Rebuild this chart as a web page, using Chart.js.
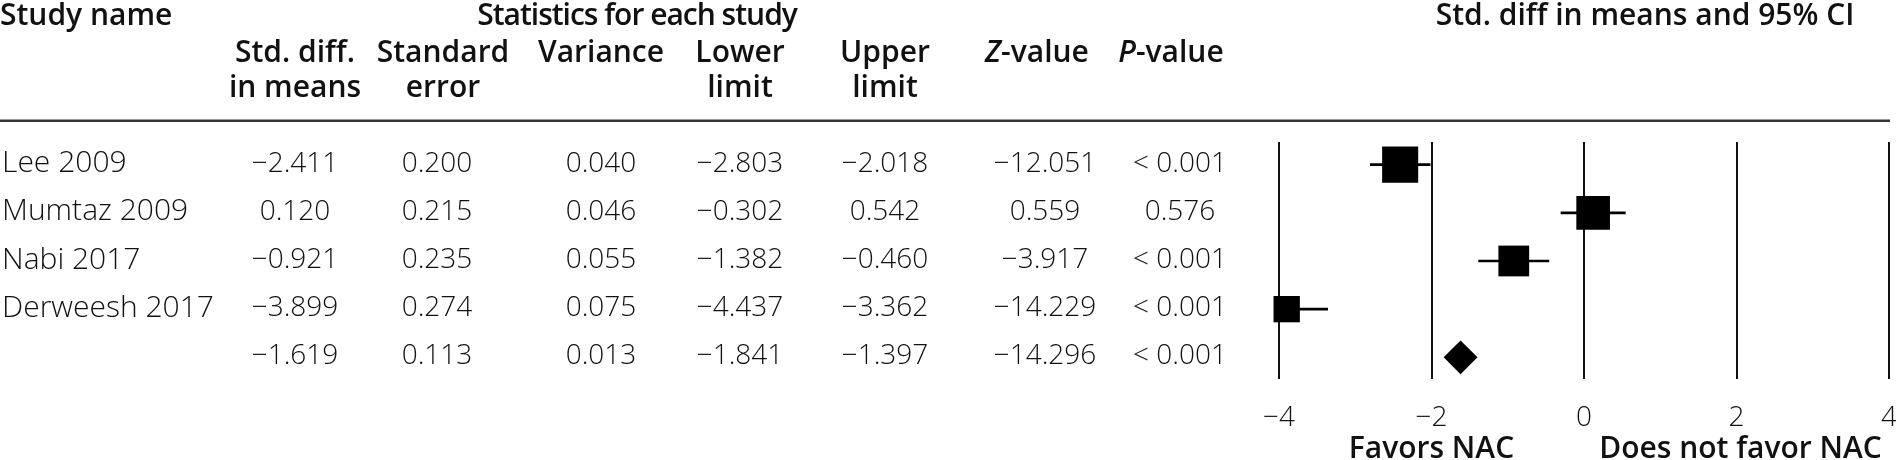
<!DOCTYPE html>
<html>
<head>
<meta charset="utf-8">
<script src="https://cdn.jsdelivr.net/npm/chart.js@4.4.1/dist/chart.umd.min.js"></script>
<style>
  html, body { margin: 0; padding: 0; background: #fff; overflow: hidden; width: 1896px; height: 460px; }
  #c { display: block; width: 1896px; height: 460px; }
</style>
</head>
<body>
<canvas id="c" width="1896" height="460"></canvas>
<script>
// ---------------- data ----------------
const studyNames = ['Lee 2009', 'Mumtaz 2009', 'Nabi 2017', 'Derweesh 2017', ''];
const stdDiff    = [-2.411, 0.120, -0.921, -3.899, -1.619];
const stdErr     = [0.200, 0.215, 0.235, 0.274, 0.113];
const variance   = [0.040, 0.046, 0.055, 0.075, 0.013];
const lowerLimit = [-2.803, -0.302, -1.382, -4.437, -1.841];
const upperLimit = [-2.018, 0.542, -0.460, -3.362, -1.397];
const zValue     = [-12.051, 0.559, -3.917, -14.229, -14.296];
const pValue     = ['< 0.001', '0.576', '< 0.001', '< 0.001', '< 0.001'];
const xTickValues = [-4, -2, 0, 2, 4];
const xTickLabels = ['\u22124', '\u22122', '0', '2', '4'];
const summaryIndex = 4;

// ---------------- styling / layout ----------------
const FAMILY = '"Open Sans", "Noto Sans", sans-serif';
const INK = '#111';
const fmt = v => (v < 0 ? '\u2212' : '') + Math.abs(v).toFixed(3);

const colStdDiff = 295, colSE = 437, colVar = 601, colLow = 740, colUp = 885, colZ = 1045, colP = 1180;
const HS = 30;   // header font size
const NS = 30;   // study name font size
const DS = 28;   // numbers font size

function drawMixed(ctx, parts, cx, cy, size) {
  let total = 0;
  const widths = parts.map(([t, it]) => {
    ctx.font = `${it ? 'italic ' : ''}600 ${size}px ${FAMILY}`;
    const w = ctx.measureText(t).width; total += w; return w;
  });
  let x = cx - total / 2;
  ctx.textAlign = 'left';
  parts.forEach(([t, it], i) => {
    ctx.font = `${it ? 'italic ' : ''}600 ${size}px ${FAMILY}`;
    ctx.fillText(t, x, cy);
    x += widths[i];
  });
}

const tablePlugin = {
  id: 'forestTable',
  afterDraw(chart) {
    const { ctx, scales: { x, y } } = chart;
    ctx.save();
    ctx.fillStyle = INK;
    ctx.textBaseline = 'middle';
    ctx.font = `600 ${HS}px ${FAMILY}`;
    ctx.textAlign = 'left';
    ctx.fillText('Study name', 0, 16);
    ctx.textAlign = 'center';
    if ('letterSpacing' in ctx) ctx.letterSpacing = '-1px';
    ctx.fillText('Statistics for each study', 637, 16);
    if ('letterSpacing' in ctx) ctx.letterSpacing = '0px';
    ctx.fillText('Std. diff in means and 95% CI', 1645, 16);

    const r2 = 53, r3 = 88;
    ctx.fillText('Std. diff.', colStdDiff, r2);
    ctx.fillText('in means', colStdDiff, r3);
    ctx.fillText('Standard', colSE + 6, r2);
    ctx.fillText('error', colSE + 6, r3);
    ctx.fillText('Variance', colVar, r2);
    ctx.fillText('Lower', colLow, r2);
    ctx.fillText('limit', colLow, r3);
    ctx.fillText('Upper', colUp, r2);
    ctx.fillText('limit', colUp, r3);
    drawMixed(ctx, [['Z', true], ['-value', false]], colZ - 8, r2, HS);
    drawMixed(ctx, [['P', true], ['-value', false]], colP - 9, r2, HS);

    // header rule
    ctx.fillStyle = '#333';
    ctx.fillRect(0, 119.5, 1890, 2.5);

    // rows
    ctx.fillStyle = INK;
    studyNames.forEach((name, i) => {
      const yy = y.getPixelForValue(i) - 1;
      ctx.font = `300 ${NS}px ${FAMILY}`;
      ctx.textAlign = 'left';
      ctx.fillText(name, 2, yy);
      ctx.font = `300 ${DS}px ${FAMILY}`;
      ctx.textAlign = 'center';
      ctx.fillText(fmt(stdDiff[i]), colStdDiff, yy);
      ctx.fillText(stdErr[i].toFixed(3), colSE, yy);
      ctx.fillText(variance[i].toFixed(3), colVar, yy);
      ctx.fillText(fmt(lowerLimit[i]), colLow, yy);
      ctx.fillText(fmt(upperLimit[i]), colUp, yy);
      ctx.fillText(fmt(zValue[i]), colZ, yy);
      ctx.fillText(pValue[i], colP, yy);
    });

    // favour labels
    ctx.font = `600 ${HS}px ${FAMILY}`;
    ctx.textAlign = 'center';
    ctx.fillText('Favors NAC', x.getPixelForValue(-2), 449);
    ctx.fillText('Does not favor NAC', x.getPixelForValue(2) + 4, 449);
    ctx.restore();
  }
};

const studyIdx = [0, 1, 2, 3];

new Chart(document.getElementById('c'), {
  type: 'bar',
  data: {
    datasets: [
      {
        type: 'scatter',
        data: studyIdx.map(i => ({ x: stdDiff[i], y: i })),
        pointStyle: 'rect',
        pointRadius: c => 5.1 * Math.sqrt(1 / variance[c.dataIndex]),
        backgroundColor: '#000',
        borderWidth: 0,
        clip: false,
        order: 0
      },
      {
        type: 'scatter',
        data: [{ x: stdDiff[summaryIndex], y: summaryIndex }],
        pointStyle: 'rectRot',
        pointRadius: c => {
          const xs = c.chart.scales.x;
          return (xs.getPixelForValue(upperLimit[summaryIndex]) - xs.getPixelForValue(lowerLimit[summaryIndex])) / 2;
        },
        backgroundColor: '#000',
        borderWidth: 0,
        clip: false,
        order: 0
      },
      {
        type: 'bar',
        data: studyIdx.map(i => ({ x: [lowerLimit[i], upperLimit[i]], y: i })),
        backgroundColor: '#000',
        barThickness: 2,
        borderSkipped: false,
        clip: 0,
        order: 1
      }
    ]
  },
  options: {
    indexAxis: 'y',
    responsive: false,
    maintainAspectRatio: false,
    animation: false,
    events: [],
    layout: { autoPadding: false, padding: { left: 1279, right: 7, top: 142, bottom: 0 } },
    plugins: { legend: { display: false }, tooltip: { enabled: false } },
    scales: {
      x: {
        type: 'linear',
        position: 'bottom',
        min: -4, max: 4,
        afterBuildTicks: s => { s.ticks = xTickValues.map(v => ({ value: v })); },
        afterFit: s => { s.height = 81; s.paddingLeft = 0; s.paddingRight = 0; },
        grid: { color: INK, lineWidth: 2, drawTicks: false, tickLength: 0 },
        border: { display: false },
        ticks: {
          padding: 22,
          color: INK,
          font: { family: FAMILY, size: 28, weight: 300 },
          maxRotation: 0,
          callback: (v) => xTickLabels[xTickValues.indexOf(v)]
        }
      },
      y: {
        type: 'linear',
        min: -0.47, max: 4.45,
        reverse: true,
        offset: false,
        grace: 0,
        display: false,
        afterDataLimits: s => { s.min = -0.47; s.max = 4.45; }
      }
    }
  },
  plugins: [tablePlugin]
});
</script>
</body>
</html>
